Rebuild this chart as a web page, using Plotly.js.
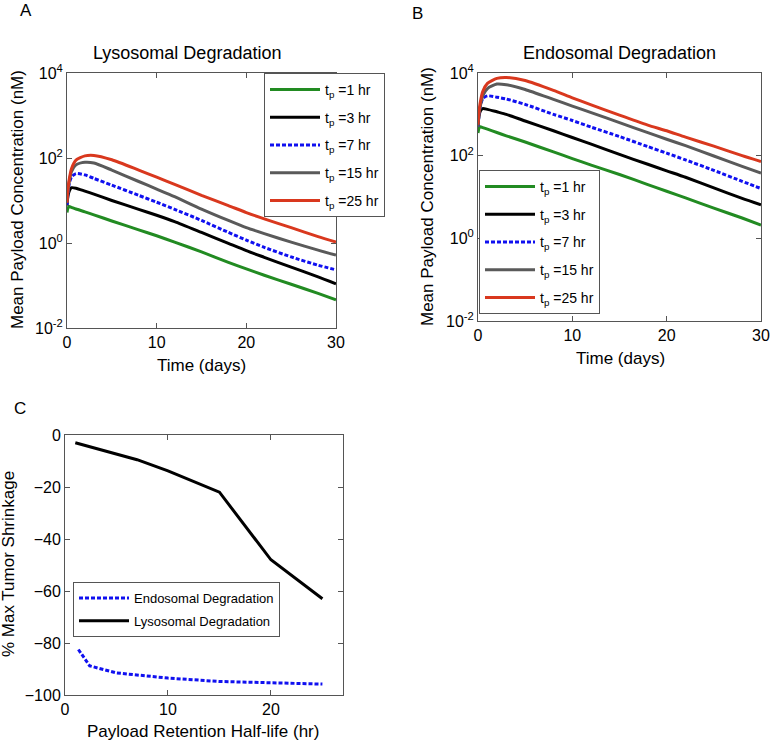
<!DOCTYPE html>
<html>
<head>
<meta charset="utf-8">
<script src="https://cdn.plot.ly/plotly-3.0.1.min.js"></script>
<style>html,body{margin:0;padding:0;background:#fff;}#chart{width:771px;height:742px;}</style>
</head>
<body>
<div id="chart"></div>
<script>
// ---------- data ----------
var timeDays = [0, 0.1, 0.25, 0.5, 1, 2, 3, 5, 8, 10, 12, 15, 18, 20, 22, 25, 28, 30];
var seriesNames = ["t<sub>p</sub> =1 hr", "t<sub>p</sub> =3 hr", "t<sub>p</sub> =7 hr", "t<sub>p</sub> =15 hr", "t<sub>p</sub> =25 hr"];

// Panel A: Lysosomal degradation, mean payload concentration (nM)
var lyso_tp1  = [5.2, 6.6, 7.2, 6.9, 6.3, 5.4, 4.6, 3.3, 2.04, 1.48, 1.05, 0.62, 0.35, 0.245, 0.174, 0.107, 0.065, 0.046];
var lyso_tp3  = [7.6, 12.6, 16.6, 20, 19.5, 16.6, 14.1, 10, 6.2, 4.5, 3.2, 1.78, 0.98, 0.66, 0.46, 0.27, 0.16, 0.11];
var lyso_tp7  = [7.9, 14.1, 25, 36, 43, 40, 33, 23, 13.2, 9.1, 6.2, 3.4, 1.78, 1.17, 0.79, 0.47, 0.30, 0.234];
var lyso_tp15 = [8.9, 15.8, 28, 48, 69, 79, 76, 52, 28, 18.6, 12.3, 6.3, 3.4, 2.3, 1.66, 1.05, 0.68, 0.52];
var lyso_tp25 = [8.9, 17.8, 31.6, 56, 89, 112, 115, 91, 52, 35.5, 24, 13.2, 7.6, 5.2, 3.7, 2.3, 1.41, 1.05];

// Panel B: Endosomal degradation, mean payload concentration (nM)
var endo_tp1  = [355, 457, 500, 479, 437, 363, 302, 214, 123, 85, 59, 35, 20, 13.8, 9.5, 5.4, 3.1, 2.1];
var endo_tp3  = [525, 890, 1200, 1380, 1320, 1150, 1000, 690, 400, 275, 190, 107, 62, 43, 30, 16.6, 9.3, 6.5];
var endo_tp7  = [500, 950, 1580, 2400, 2800, 2600, 2350, 1740, 1000, 710, 490, 290, 166, 115, 79, 44, 24, 16];
var endo_tp15 = [500, 1000, 1580, 2800, 4200, 5400, 5200, 4000, 2300, 1580, 1100, 630, 360, 250, 175, 98, 55, 38];
var endo_tp25 = [560, 1120, 2000, 3550, 5600, 7400, 7800, 6600, 3800, 2500, 1700, 955, 550, 400, 280, 170, 100, 72];

// Panel C: % max tumor shrinkage vs payload retention half-life (hr)
var halfLifeEndo = [1.3, 2.4, 5, 7, 10, 15, 20, 25];
var shrinkEndo   = [-82.5, -88.8, -91.5, -92.3, -93.5, -94.8, -95.3, -95.8];
var halfLifeLyso = [1, 7, 10, 15, 20, 25];
var shrinkLyso   = [-3, -9.5, -13.8, -22, -48, -63];

var logTickVals = [0.01, 1, 100, 10000];
var logTickText = ["10<sup>-2</sup>", "10<sup>0</sup>", "10<sup>2</sup>", "10<sup>4</sup>"];

// ---------- styling ----------
var colors = ["#228B22", "#000000", "#1010F0", "#5A5A5A", "#D9381E"];
var dashes = ["solid", "solid", "4px,2px", "solid", "solid"];
var FONT = "Liberation Sans, Arial, sans-serif";

var lysoSeries = [lyso_tp1, lyso_tp3, lyso_tp7, lyso_tp15, lyso_tp25];
var endoSeries = [endo_tp1, endo_tp3, endo_tp7, endo_tp15, endo_tp25];

var traces = [];
lysoSeries.forEach(function (ys, i) {
  traces.push({x: timeDays, y: ys, xaxis: "x", yaxis: "y", type: "scatter", mode: "lines",
    name: seriesNames[i], legend: "legend", legendgroup: "a" + i,
    line: {color: colors[i], width: 3, dash: dashes[i], shape: "spline", smoothing: 0.6}});
});
endoSeries.forEach(function (ys, i) {
  traces.push({x: timeDays, y: ys, xaxis: "x2", yaxis: "y2", type: "scatter", mode: "lines",
    name: seriesNames[i], legend: "legend2", legendgroup: "b" + i,
    line: {color: colors[i], width: 3, dash: dashes[i], shape: "spline", smoothing: 0.6}});
});
traces.push({x: halfLifeEndo, y: shrinkEndo, xaxis: "x3", yaxis: "y3", type: "scatter", mode: "lines",
  name: "Endosomal Degradation", legend: "legend3", legendgroup: "c0",
  line: {color: "#1010F0", width: 3, dash: "4px,2px"}});
traces.push({x: halfLifeLyso, y: shrinkLyso, xaxis: "x3", yaxis: "y3", type: "scatter", mode: "lines",
  name: "Lysosomal Degradation", legend: "legend3", legendgroup: "c1",
  line: {color: "#000000", width: 3}});

var W = 771, H = 742;
function dx(a, b) { return [a / W, b / W]; }
function dy(top, bottom) { return [1 - bottom / H, 1 - top / H]; }

function baseAxis(extra) {
  var ax = {showgrid: false, zeroline: false, showline: true, linecolor: "#555", linewidth: 1,
    mirror: "ticks", ticks: "inside", ticklen: 5, tickcolor: "#555",
    tickfont: {family: FONT, size: 16, color: "#000"}};
  for (var k in extra) ax[k] = extra[k];
  return ax;
}

var legendBase = {bgcolor: "#fff", bordercolor: "#555", borderwidth: 1,
  font: {family: FONT, size: 14, color: "#000"}, xanchor: "left", yanchor: "top",
  itemwidth: 50, traceorder: "grouped", tracegroupgap: 6.5};
function leg(extra) { var o = JSON.parse(JSON.stringify(legendBase)); for (var k in extra) o[k] = extra[k]; return o; }

var layout = {
  width: W, height: H,
  margin: {l: 0, r: 0, t: 0, b: 0},
  paper_bgcolor: "#fff", plot_bgcolor: "#fff",
  showlegend: true,
  xaxis:  baseAxis({domain: dx(67, 336), range: [0, 30], tickvals: [0, 10, 20, 30], anchor: "y"}),
  yaxis:  baseAxis({domain: dy(73, 328), type: "log", range: [-2, 4], tickvals: logTickVals, ticktext: logTickText, anchor: "x"}),
  xaxis2: baseAxis({domain: dx(478, 761), range: [0, 30], tickvals: [0, 10, 20, 30], anchor: "y2"}),
  yaxis2: baseAxis({domain: dy(73, 321), type: "log", range: [-2, 4], tickvals: logTickVals, ticktext: logTickText, anchor: "x2"}),
  xaxis3: baseAxis({domain: dx(65, 343), range: [0, 27], tickvals: [0, 10, 20], anchor: "y3"}),
  yaxis3: baseAxis({domain: dy(435, 695), range: [-100, 0], tickvals: [-100, -80, -60, -40, -20, 0], anchor: "x3"}),
  legend:  leg({x: 264 / W, y: 1 - 73 / H}),
  legend2: leg({x: 479 / W, y: 1 - 170 / H}),
  legend3: leg({x: 73 / W, y: 1 - 582 / H, tracegroupgap: 3, font: {family: FONT, size: 13, color: "#000"}}),
  annotations: []
};

function txt(text, x, y, size, angle) {
  layout.annotations.push({text: text, x: x / W, y: 1 - y / H, xref: "paper", yref: "paper",
    xanchor: "center", yanchor: "middle", showarrow: false, textangle: angle || 0,
    font: {family: FONT, size: size, color: "#000"}});
}
txt("A", 26, 11, 17);
txt("B", 418, 14, 17);
txt("C", 20, 408, 17);
txt("Lysosomal Degradation", 187, 53, 18);
txt("Endosomal Degradation", 619, 53, 18);
txt("Mean Payload Concentration (nM)", 17, 200, 17, -90);
txt("Mean Payload Concentration (nM)", 427, 197, 17, -90);
txt("Time (days)", 201, 365, 17);
txt("Time (days)", 620, 358, 17);
txt("% Max Tumor Shrinkage", 8, 564, 17, -90);
txt("Payload Retention Half-life (hr)", 203, 731, 17);

Plotly.newPlot("chart", traces, layout, {displayModeBar: false, staticPlot: true});
</script>
</body>
</html>
